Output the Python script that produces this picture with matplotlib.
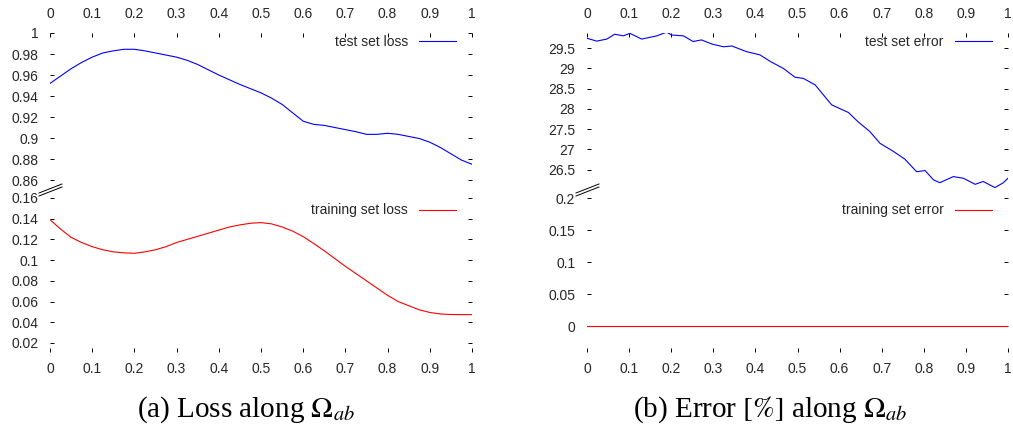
import matplotlib
import numpy as np

matplotlib.use("Agg")
import matplotlib.pyplot as plt
from matplotlib.lines import Line2D
from matplotlib.ticker import FormatStrFormatter

# loss along the path, sampled every 0.025
loss_x = [0.000, 0.025, 0.050, 0.075, 0.100, 0.125, 0.150, 0.175, 0.200, 0.225,
          0.250, 0.275, 0.300, 0.325, 0.350, 0.375, 0.400, 0.425, 0.450, 0.475,
          0.500, 0.525, 0.550, 0.575, 0.600, 0.625, 0.650, 0.675, 0.700, 0.725,
          0.750, 0.775, 0.800, 0.825, 0.850, 0.875, 0.900, 0.925, 0.950, 0.975, 1.000]
test_loss = [0.952, 0.959, 0.966, 0.972, 0.977, 0.981, 0.983, 0.9845, 0.9845, 0.983,
             0.981, 0.979, 0.977, 0.974, 0.970, 0.965, 0.960, 0.9555, 0.951, 0.947,
             0.943, 0.938, 0.932, 0.924, 0.916, 0.913, 0.912, 0.910, 0.908, 0.906,
             0.9035, 0.9035, 0.9045, 0.9035, 0.9015, 0.8995, 0.896, 0.891, 0.885, 0.879, 0.875]
train_loss = [0.139, 0.130, 0.122, 0.117, 0.113, 0.110, 0.108, 0.107, 0.1066, 0.108,
              0.110, 0.113, 0.117, 0.120, 0.123, 0.126, 0.129, 0.132, 0.134, 0.1356,
              0.1362, 0.135, 0.132, 0.128, 0.1227, 0.116, 0.109, 0.1015, 0.094, 0.087,
              0.080, 0.073, 0.066, 0.060, 0.056, 0.052, 0.0495, 0.048, 0.0475, 0.0474, 0.0474]

# error [%] along the path
err_x = [0.0, 0.023, 0.047, 0.066, 0.086, 0.102, 0.13, 0.166, 0.189, 0.201, 0.229,
         0.252, 0.272, 0.296, 0.324, 0.344, 0.379, 0.411, 0.435, 0.466, 0.494,
         0.514, 0.542, 0.581, 0.621, 0.644, 0.672, 0.696, 0.728, 0.755, 0.783,
         0.803, 0.823, 0.838, 0.870, 0.894, 0.922, 0.941, 0.969, 0.989, 1.0]
test_err = [29.74, 29.67, 29.72, 29.84, 29.80, 29.86, 29.72, 29.80, 29.89, 29.82, 29.80,
            29.66, 29.70, 29.60, 29.53, 29.55, 29.41, 29.33, 29.17, 29.00, 28.78,
            28.75, 28.59, 28.10, 27.91, 27.68, 27.44, 27.15, 26.95, 26.76, 26.45,
            26.48, 26.25, 26.18, 26.33, 26.29, 26.14, 26.21, 26.06, 26.18, 26.29]
train_err_x = [0.0, 1.0]
train_err = [0.0, 0.0]

x_ticks = [0, 0.1, 0.2, 0.3, 0.4, 0.5, 0.6, 0.7, 0.8, 0.9, 1]
loss_hi_ticks = [0.86, 0.88, 0.9, 0.92, 0.94, 0.96, 0.98, 1.0]
loss_lo_ticks = [0.02, 0.04, 0.06, 0.08, 0.1, 0.12, 0.14, 0.16]
err_hi_ticks = [26.5, 27, 27.5, 28, 28.5, 29, 29.5]
err_lo_ticks = [0, 0.05, 0.1, 0.15, 0.2]

W, H = 1013, 441
BLUE = '#0000ff'
RED = '#ff0000'
TXT = '#262626'

plt.rcParams['font.family'] = ['Liberation Sans', 'DejaVu Sans']
plt.rcParams['mathtext.fontset'] = 'stix'


def frac(px_left, px_top, px_right, px_bottom):
    return [px_left / W, 1 - px_bottom / H, (px_right - px_left) / W, (px_bottom - px_top) / H]


def style(ax, top):
    for s in ax.spines.values():
        s.set_visible(False)
    ax.set_xlim(0, 1)
    ax.set_xticks(x_ticks)
    ax.xaxis.set_major_formatter(FormatStrFormatter('%g'))
    ax.yaxis.set_major_formatter(FormatStrFormatter('%g'))
    ax.tick_params(direction='in', length=3, width=0.7, colors='black',
                   labelcolor=TXT, labelsize=10)
    ax.tick_params(axis='y', left=True, right=True, labelleft=True, pad=8.5)
    if top:
        ax.tick_params(axis='x', top=True, bottom=False, labeltop=True,
                       labelbottom=False, pad=9)
    else:
        ax.tick_params(axis='x', top=False, bottom=True, labeltop=False,
                       labelbottom=True, pad=7)


def break_marks(fig, px_axis_x, px_break_y):
    for dy in (0, -3):
        fig.add_artist(Line2D([(px_axis_x - 11) / W, (px_axis_x + 12) / W],
                              [1 - (px_break_y + 6 + dy) / H, 1 - (px_break_y - 3 + dy) / H],
                              color='black', lw=0.7, transform=fig.transFigure))


fig = plt.figure(figsize=(W / 100, H / 100), dpi=100)

# (a) loss
ax1 = fig.add_axes(frac(50, 33, 472, 190))
ax2 = fig.add_axes(frac(50, 190, 472, 352))
ax1.plot(loss_x, test_loss, color=BLUE, lw=0.8, label='test set loss')
ax2.plot(loss_x, train_loss, color=RED, lw=0.8, label='training set loss')
ax1.set_ylim(0.8505, 1.0)
ax2.set_ylim(0.0113, 0.1677)
ax1.set_yticks(loss_hi_ticks)
ax2.set_yticks(loss_lo_ticks)
style(ax1, True)
style(ax2, False)
break_marks(fig, 50, 190)

# (b) error
ax3 = fig.add_axes(frac(587, 33, 1008, 190))
ax4 = fig.add_axes(frac(587, 190, 1008, 352))
ax3.plot(err_x, test_err, color=BLUE, lw=0.8, label='test set error')
ax4.plot(train_err_x, train_err, color=RED, lw=0.8, label='training set error')
ax3.set_ylim(26.0, 29.87)
ax4.set_ylim(-0.04, 0.2125)
ax3.set_yticks(err_hi_ticks)
ax4.set_yticks(err_lo_ticks)
style(ax3, True)
style(ax4, False)
break_marks(fig, 587, 190)

for ax, anchor in ((ax1, (0.968, 1.0)), (ax2, (0.968, 0.93)),
                   (ax3, (0.968, 1.0)), (ax4, (0.968, 0.93))):
    leg = ax.legend(loc='upper right', bbox_to_anchor=anchor, frameon=False,
                    markerfirst=False, handlelength=2.7, handletextpad=0.8,
                    borderaxespad=0, borderpad=0.15, fontsize=10)
    for t in leg.get_texts():
        t.set_color(TXT)

fig.text(246 / W, 1 - 410 / H, r'(a) Loss along $\Omega_{ab}$', ha='center', va='center',
         family='Liberation Serif', fontsize=21)
fig.text(770 / W, 1 - 410 / H, r'(b) Error $\left[\%\right]$ along $\Omega_{ab}$',
         ha='center', va='center', family='Liberation Serif', fontsize=21)

fig.savefig('out.png', dpi=100)
